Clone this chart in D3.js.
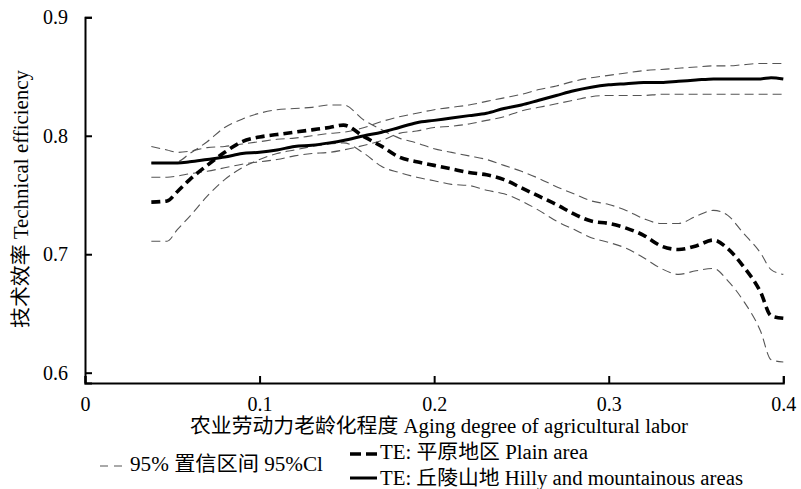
<!DOCTYPE html>
<html>

<head>
    <meta charset="utf-8">
    <script src="https://d3js.org/d3.v7.min.js"></script>
    <style>
        body { margin: 0; background: #fff; }
        svg text { font-family: "Liberation Serif", "Times New Roman", "DejaVu Serif", "Noto Sans CJK SC", serif !important; fill: #000; }
    </style>
</head>

<body>
    <div id="my_dataviz"></div>

    <script>
        // aging degree values where the curves were read
        const aging = [0.038, 0.047, 0.053, 0.06, 0.07, 0.08, 0.09, 0.1, 0.11, 0.12, 0.13, 0.14, 0.148,
            0.16, 0.17, 0.18, 0.19, 0.2, 0.21, 0.22, 0.23, 0.24, 0.25, 0.26, 0.27, 0.28, 0.29, 0.3,
            0.31, 0.32, 0.33, 0.34, 0.35, 0.36, 0.368, 0.377, 0.387, 0.393, 0.4];

        // TE: plain area, with 95% CI
        const plainTE = [0.744, 0.745, 0.753, 0.763, 0.775, 0.786, 0.795, 0.799, 0.801, 0.803, 0.805, 0.807, 0.809,
            0.799, 0.791, 0.782, 0.778, 0.775, 0.772, 0.769, 0.767, 0.763, 0.756, 0.749, 0.742, 0.734, 0.728, 0.726,
            0.722, 0.716, 0.707, 0.704, 0.707, 0.712, 0.705, 0.690, 0.668, 0.648, 0.646];
        const plainUpper = [0.777, 0.777, 0.778, 0.785, 0.795, 0.807, 0.814, 0.819, 0.822, 0.823, 0.824, 0.826, 0.826,
            0.813, 0.805, 0.798, 0.794, 0.789, 0.786, 0.783, 0.780, 0.775, 0.770, 0.764, 0.757, 0.751, 0.745, 0.742,
            0.737, 0.730, 0.726, 0.726, 0.732, 0.737, 0.733, 0.718, 0.701, 0.687, 0.683];
        const plainLower = [0.711, 0.711, 0.721, 0.732, 0.749, 0.763, 0.773, 0.780, 0.785, 0.788, 0.791, 0.793, 0.794,
            0.785, 0.774, 0.769, 0.765, 0.762, 0.759, 0.758, 0.754, 0.751, 0.745, 0.737, 0.728, 0.721, 0.714, 0.710,
            0.705, 0.697, 0.688, 0.683, 0.686, 0.688, 0.678, 0.661, 0.635, 0.611, 0.609];

        // TE: hilly and mountainous areas, with 95% CI
        const hillyTE = [0.777, 0.777, 0.777, 0.778, 0.780, 0.782, 0.785, 0.786, 0.788, 0.791, 0.792, 0.794, 0.796,
            0.800, 0.803, 0.807, 0.811, 0.813, 0.815, 0.817, 0.819, 0.823, 0.826, 0.830, 0.834, 0.838, 0.841, 0.843,
            0.844, 0.845, 0.845, 0.846, 0.847, 0.848, 0.848, 0.848, 0.848, 0.849, 0.848];
        const hillyUpper = [0.791, 0.788, 0.786, 0.787, 0.790, 0.791, 0.793, 0.795, 0.797, 0.798, 0.800, 0.802, 0.803,
            0.807, 0.812, 0.816, 0.819, 0.822, 0.824, 0.826, 0.829, 0.832, 0.835, 0.839, 0.842, 0.846, 0.849, 0.851,
            0.853, 0.855, 0.856, 0.857, 0.858, 0.859, 0.859, 0.860, 0.861, 0.861, 0.861];
        const hillyLower = [0.765, 0.765, 0.766, 0.768, 0.770, 0.773, 0.776, 0.778, 0.780, 0.783, 0.785, 0.786, 0.788,
            0.792, 0.796, 0.802, 0.804, 0.807, 0.808, 0.810, 0.813, 0.816, 0.821, 0.824, 0.827, 0.830, 0.833, 0.834,
            0.834, 0.834, 0.835, 0.835, 0.835, 0.835, 0.835, 0.835, 0.835, 0.835, 0.835];

        const xTicks = [0, 0.1, 0.2, 0.3, 0.4];
        const yTicks = [0.6, 0.7, 0.8, 0.9];

        const width = 801, height = 489;

        const svg = d3.select("#my_dataviz")
            .append("svg")
            .attr("width", width)
            .attr("height", height);

        // scales (y axis runs a bit below 0.6)
        const x = d3.scaleLinear().domain([0, 0.4]).range([85, 783.3]);
        const y = d3.scaleLinear().domain([0.5913, 0.9]).range([383, 17.3]);

        // x axis, ticks pointing inward
        const gx = svg.append("g")
            .attr("transform", `translate(0, ${y(0.5913)})`)
            .call(d3.axisBottom(x).tickValues(xTicks).tickSize(-7).tickPadding(14)
                .tickFormat(d => d === 0 ? "0" : d3.format(".1f")(d)));
        // y axis
        const gy = svg.append("g")
            .attr("transform", `translate(${x(0)}, 0)`)
            .call(d3.axisLeft(y).tickValues(yTicks).tickSize(-7).tickPadding(17).tickFormat(d3.format(".1f")));

        [gx, gy].forEach(g => {
            g.attr("font-family", null);
            g.select(".domain").attr("stroke", "#000").attr("stroke-width", 2);
            g.selectAll(".tick line").attr("stroke", "#000").attr("stroke-width", 2);
            g.selectAll(".tick text").attr("font-size", 20);
        });

        const line = d3.line()
            .curve(d3.curveMonotoneX)
            .x((d, i) => x(aging[i]))
            .y(d => y(d));

        // confidence bands
        [plainUpper, plainLower, hillyUpper, hillyLower].forEach(s => {
            svg.append("path")
                .datum(s)
                .attr("fill", "none")
                .attr("stroke", "#555")
                .attr("stroke-width", 1.1)
                .attr("stroke-dasharray", "9,5")
                .attr("d", line);
        });

        // plain area: thick dashed
        svg.append("path")
            .datum(plainTE)
            .attr("fill", "none")
            .attr("stroke", "#000")
            .attr("stroke-width", 3.6)
            .attr("stroke-dasharray", "9,5")
            .attr("d", line);

        // hilly areas: solid
        svg.append("path")
            .datum(hillyTE)
            .attr("fill", "none")
            .attr("stroke", "#000")
            .attr("stroke-width", 3)
            .attr("d", line);

        // axis titles
        svg.append("text")
            .attr("x", 190).attr("y", 433)
            .attr("font-size", 20)
            .attr("textLength", 498).attr("lengthAdjust", "spacingAndGlyphs")
            .text("农业劳动力老龄化程度 Aging degree of agricultural labor");

        svg.append("text")
            .attr("transform", "translate(28, 199) rotate(-90)")
            .attr("text-anchor", "middle")
            .attr("font-size", 20)
            .attr("textLength", 258).attr("lengthAdjust", "spacingAndGlyphs")
            .text("技术效率 Technical efficiency");

        // legend
        svg.append("line")
            .attr("x1", 100).attr("x2", 125).attr("y1", 466).attr("y2", 466)
            .attr("stroke", "#555").attr("stroke-width", 1.1).attr("stroke-dasharray", "8,6");
        svg.append("text")
            .attr("x", 130).attr("y", 471).attr("font-size", 20)
            .attr("textLength", 193).attr("lengthAdjust", "spacingAndGlyphs")
            .text("95% 置信区间 95%Cl");

        svg.append("line")
            .attr("x1", 350).attr("x2", 377).attr("y1", 454).attr("y2", 454)
            .attr("stroke", "#000").attr("stroke-width", 3.6).attr("stroke-dasharray", "11,5");
        svg.append("text")
            .attr("x", 380).attr("y", 459).attr("font-size", 20)
            .attr("textLength", 208).attr("lengthAdjust", "spacingAndGlyphs")
            .text("TE: 平原地区 Plain area");

        svg.append("line")
            .attr("x1", 350).attr("x2", 377).attr("y1", 478).attr("y2", 478)
            .attr("stroke", "#000").attr("stroke-width", 3);
        svg.append("text")
            .attr("x", 380).attr("y", 485).attr("font-size", 20)
            .attr("textLength", 363).attr("lengthAdjust", "spacingAndGlyphs")
            .text("TE: 丘陵山地 Hilly and mountainous areas");
    </script>

</body>

</html>
